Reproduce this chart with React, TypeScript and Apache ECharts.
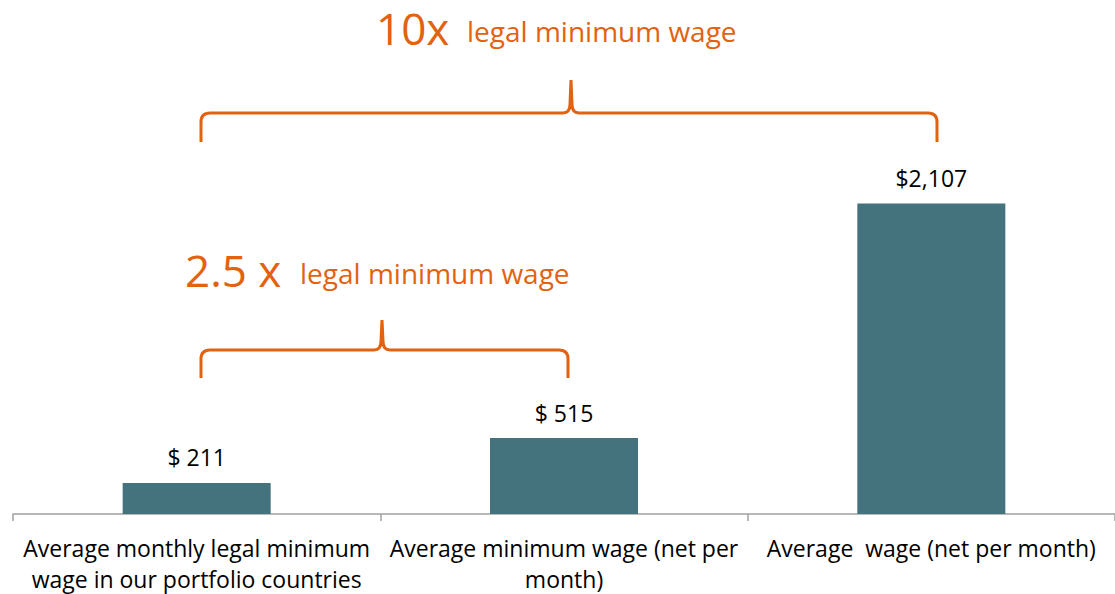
import React, { useEffect, useRef } from "react";
import * as echarts from "echarts";

const categories = [
  "Average monthly legal minimum\nwage in our portfolio countries",
  "Average minimum wage (net per\nmonth)",
  "Average  wage (net per month)",
];
const values = [211, 515, 2107];
const valueLabels = ["$ 211", "$ 515", "$2,107"];

const ORANGE = "#E2620F";
const BAR = "#44727D";
const FONT = "'Open Sans', 'Noto Sans', sans-serif";

function bracePath(x1: number, x2: number, yh: number, yb: number, xm: number, yp: number) {
  const r = 9;
  return (
    `M${x1} ${yb} L${x1} ${yh + r} Q${x1} ${yh} ${x1 + r} ${yh} ` +
    `L${xm - 8} ${yh} Q${xm - 1} ${yh} ${xm - 1} ${yh - 9} L${xm} ${yp} ` +
    `L${xm + 1} ${yh - 9} Q${xm + 1} ${yh} ${xm + 8} ${yh} ` +
    `L${x2 - r} ${yh} Q${x2} ${yh} ${x2} ${yh + r} L${x2} ${yb}`
  );
}

echarts.graphic.registerShape(
  "braceTop",
  echarts.graphic.extendPath(bracePath(201, 937, 113, 142, 571, 80), {})
);
echarts.graphic.registerShape(
  "braceMid",
  echarts.graphic.extendPath(bracePath(201, 568, 350, 378, 382, 320), {})
);

export default function App() {
  const ref = useRef<HTMLDivElement>(null);
  useEffect(() => {
    document.body.style.margin = "0";
    const chart = echarts.init(ref.current!, null, { renderer: "svg" });
    chart.setOption({
      animation: false,
      grid: { left: 13, width: 1107, top: 100, bottom: 78, containLabel: false },
      xAxis: {
        type: "category",
        data: categories,
        axisLine: { show: true, lineStyle: { color: "#A0A0A0", width: 1.5 } },
        axisTick: { show: true, alignWithLabel: false, length: 7, lineStyle: { color: "#A0A0A0", width: 1.5 } },
        axisLabel: {
          interval: 0,
          margin: 18,
          color: "#000",
          fontFamily: FONT,
          fontSize: 23,
          lineHeight: 31,
        },
      },
      yAxis: { type: "value", min: 0, max: 2810, show: false },
      series: [
        {
          type: "bar",
          data: values,
          barWidth: 148,
          itemStyle: { color: BAR },
          label: {
            show: true,
            position: "top",
            distance: 14,
            color: "#000",
            fontFamily: FONT,
            fontSize: 23,
            formatter: (p: any) => valueLabels[p.dataIndex],
          },
        },
      ],
      graphic: [
        { type: "braceTop", x: 0, y: 0, style: { stroke: ORANGE, lineWidth: 3, fill: "none" } },
        { type: "braceMid", x: 0, y: 0, style: { stroke: ORANGE, lineWidth: 3, fill: "none" } },
        {
          type: "text",
          x: 376,
          y: 28,
          style: { text: "10x", fill: ORANGE, fontFamily: FONT, fontSize: 44, lineHeight: 40, verticalAlign: "middle", align: "left" },
        },
        {
          type: "text",
          x: 467,
          y: 46,
          style: { text: "legal minimum wage", fill: ORANGE, fontFamily: FONT, fontSize: 28, lineHeight: 30, verticalAlign: "bottom", align: "left" },
        },
        {
          type: "text",
          x: 185,
          y: 270,
          style: { text: "2.5 x", fill: ORANGE, fontFamily: FONT, fontSize: 44, lineHeight: 40, verticalAlign: "middle", align: "left" },
        },
        {
          type: "text",
          x: 300,
          y: 288,
          style: { text: "legal minimum wage", fill: ORANGE, fontFamily: FONT, fontSize: 28, lineHeight: 30, verticalAlign: "bottom", align: "left" },
        },
      ],
    });
    return () => chart.dispose();
  }, []);
  return <div ref={ref} style={{ width: 1115, height: 594 }} />;
}
